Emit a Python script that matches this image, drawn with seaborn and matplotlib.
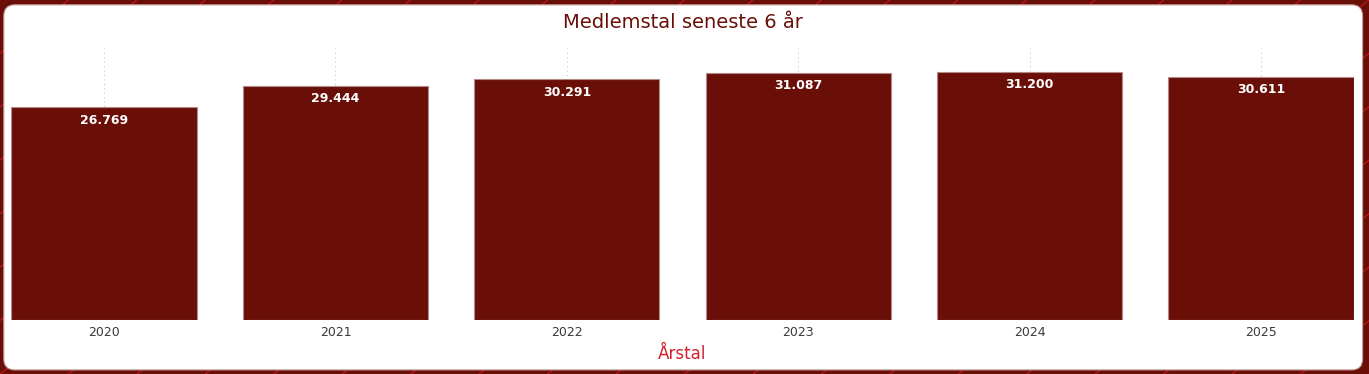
import matplotlib
matplotlib.use("Agg")
import matplotlib.pyplot as plt
from matplotlib.patches import FancyBboxPatch
from matplotlib.lines import Line2D
import seaborn as sns
import pandas as pd

years = ["2020", "2021", "2022", "2023", "2024", "2025"]
members = [26769, 29444, 30291, 31087, 31200, 30611]

df = pd.DataFrame({"Årstal": years, "Medlemstal": members})

bar_color = "#6A0F08"
sns.set_style("white")
plt.rcParams["font.family"] = ["DejaVu Sans"]

fig = plt.figure(figsize=(13.69, 3.74), dpi=100)
fig.patch.set_facecolor(bar_color)

# decorative red streaks behind the card
for i in range(-20, 30):
    x0 = i * 0.05
    fig.add_artist(Line2D([x0, x0 + 0.35], [0.0, 1.0], transform=fig.transFigure,
                          color="#E0161E", lw=0.9, alpha=0.7, zorder=0))

card = FancyBboxPatch((0.0028, 0.011), 0.9925, 0.976, boxstyle="round,pad=0,rounding_size=0.008",
                      transform=fig.transFigure, facecolor="white", edgecolor="#c9a0a0",
                      lw=0.8, zorder=1, mutation_aspect=3.66)
fig.add_artist(card)

ax = fig.add_axes([0.0084, 0.1444, 0.9803, 0.7273])
ax.set_zorder(2)
ax.patch.set_alpha(0)

sns.barplot(data=df, x="Årstal", y="Medlemstal", color=bar_color, saturation=1,
            width=0.8, edgecolor="#b48a88", linewidth=0.8, ax=ax)

ax.set_xlim(-0.4, 5.4)
ax.set_ylim(0, 34200)
ax.set_yticks([])
ax.set_ylabel("")
ax.grid(axis="x", linestyle=(0, (1, 3)), color="#c8c8c8", lw=0.8)
ax.set_axisbelow(True)
for s in ax.spines.values():
    s.set_visible(False)

labels = [f"{v:,}".replace(",", ".") for v in members]
ax.bar_label(ax.containers[0], labels=labels, padding=-14, color="white",
             fontweight="bold", fontsize=9)

ax.tick_params(axis="x", length=0, pad=4, labelsize=9, labelcolor="#3a3a3a")
ax.set_xlabel("Årstal", color="#D0202A", fontsize=12, labelpad=5)

fig.text(0.499, 0.94, "Medlemstal seneste 6 år", ha="center", va="center",
         fontsize=14, color=bar_color)

fig.savefig("out.png", dpi=100, facecolor=fig.get_facecolor())
